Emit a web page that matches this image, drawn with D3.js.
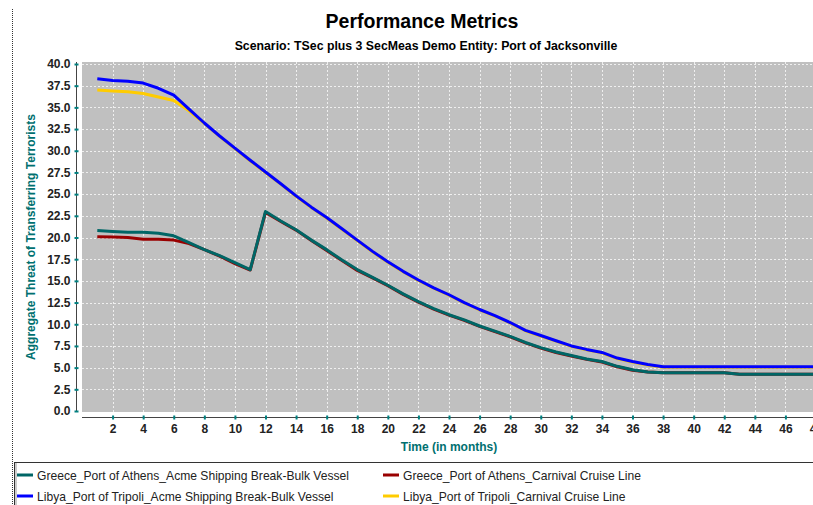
<!DOCTYPE html>
<html><head><meta charset="utf-8">
<script src="https://cdn.jsdelivr.net/npm/d3@7"></script>
<style>body{margin:0;background:#fff;}svg{display:block;}</style>
</head><body>
<script>
const months = d3.range(1, 49);
const greeceAcme = [20.8,20.7,20.6,20.6,20.5,20.2,19.4,18.6,17.9,17.1,16.3,23.0,21.9,20.9,19.7,18.6,17.4,16.3,15.4,14.5,13.5,12.6,11.8,11.1,10.5,9.8,9.2,8.6,7.9,7.3,6.8,6.4,6.0,5.7,5.15,4.75,4.5,4.4,4.4,4.4,4.4,4.4,4.25,4.25,4.25,4.25,4.25,4.25];
const greeceCarnival = [20.1,20.05,20.0,19.8,19.8,19.7,19.3,18.6,17.85,17.0,16.25,22.9,21.85,20.85,19.65,18.5,17.35,16.2,15.35,14.45,13.45,12.55,11.75,11.05,10.45,9.75,9.15,8.55,7.85,7.25,6.75,6.35,5.95,5.65,5.1,4.7,4.5,4.4,4.4,4.4,4.4,4.4,4.25,4.25,4.25,4.25,4.25,4.25];
const libyaAcme = [38.3,38.1,38.0,37.8,37.2,36.4,34.8,33.2,31.7,30.3,28.9,27.55,26.2,24.8,23.5,22.3,21.0,19.7,18.4,17.2,16.1,15.1,14.2,13.4,12.5,11.7,11.0,10.2,9.3,8.7,8.1,7.5,7.1,6.75,6.1,5.7,5.35,5.1,5.1,5.1,5.1,5.1,5.1,5.1,5.1,5.1,5.1,5.1];
const libyaCarnival = [37.0,36.9,36.8,36.6,36.2,35.8,34.6,33.15,31.65,30.25,28.85,27.5,26.15,24.75,23.45,22.25,20.95,19.65,18.35,17.15,16.05,15.05,14.15,13.35,12.45,11.65,10.95,10.15,9.25,8.65,8.05,7.45,7.05,6.7,6.05,5.65,5.3,5.05,5.05,5.05,5.05,5.05,5.05,5.05,5.05,5.05,5.05,5.05];
const seriesNames = ["Greece_Port of Athens_Acme Shipping Break-Bulk Vessel","Greece_Port of Athens_Carnival Cruise Line","Libya_Port of Tripoli_Acme Shipping Break-Bulk Vessel","Libya_Port of Tripoli_Carnival Cruise Line"];
const seriesColors = ["#006666","#990000","#0000ff","#ffcc00"];
const yTicks = d3.range(0, 40.01, 2.5);
const xTicks = d3.range(2, 49, 2);

const W = 813, H = 505;
const svg = d3.select("body").append("svg").attr("width", W).attr("height", H);
const font = "Arial, 'Liberation Sans', Helvetica, sans-serif";

const x = d3.scaleLinear().domain([0, 48]).range([82, 816]);
const y = d3.scaleLinear().domain([0, 40]).range([411, 64]);

// dotted left border
svg.append("line").attr("x1", 12.5).attr("x2", 12.5).attr("y1", 9).attr("y2", H)
  .attr("stroke", "#333").attr("stroke-dasharray", "1,1");

// titles
svg.append("text").attr("x", 422).attr("y", 28).attr("text-anchor", "middle")
  .attr("font-family", font).attr("font-weight", "bold").attr("font-size", 19.5).text("Performance Metrics");
svg.append("text").attr("x", 426).attr("y", 50).attr("text-anchor", "middle")
  .attr("font-family", font).attr("font-weight", "bold").attr("font-size", 12.3).text("Scenario: TSec plus 3 SecMeas Demo Entity: Port of Jacksonville");

// plot background
svg.append("rect").attr("x", 82).attr("y", 62).attr("width", W - 82 + 10).attr("height", 350).attr("fill", "#c0c0c0");

// grid
const grid = svg.append("g").attr("stroke", "#ffffff").attr("stroke-dasharray", "2,2").attr("stroke-width", 1).attr("opacity", 0.75);
grid.selectAll(".h").data(yTicks.filter(d => d > 0)).join("line")
  .attr("x1", 82).attr("x2", W + 10).attr("y1", d => Math.round(y(d)) + 0.5).attr("y2", d => Math.round(y(d)) + 0.5);
grid.selectAll(".v").data(xTicks).join("line")
  .attr("y1", 62).attr("y2", 412).attr("x1", d => Math.round(x(d)) + 0.5).attr("x2", d => Math.round(x(d)) + 0.5);

// axes
const yAxis = d3.axisLeft(y).tickValues(yTicks).tickFormat(d3.format(".1f")).tickSize(2).tickPadding(4);
const gy = svg.append("g").attr("transform", "translate(76.5,0)").call(yAxis);
gy.select(".domain").attr("d", `M0,${y(40) - 2}V${412}`).attr("stroke", "#444");
gy.selectAll(".tick line").attr("stroke", "#008080").attr("x1", 2).attr("x2", -2).attr("stroke-width", 2);
gy.selectAll(".tick text").attr("font-family", font).attr("font-weight", "bold").attr("font-size", 12).attr("fill", "#222");

const xAxis = d3.axisBottom(x).tickValues(xTicks).tickFormat(d3.format("d")).tickSize(2).tickPadding(5);
const gx = svg.append("g").attr("transform", "translate(0,417.5)").call(xAxis);
gx.select(".domain").attr("d", `M82,0H${W + 10}`).attr("stroke", "#444");
gx.selectAll(".tick line").attr("stroke", "#008080").attr("y1", -2).attr("y2", 2).attr("stroke-width", 2);
gx.selectAll(".tick text").attr("font-family", font).attr("font-weight", "bold").attr("font-size", 12).attr("fill", "#222");

// axis labels
svg.append("text").attr("transform", "translate(35,237) rotate(-90)").attr("text-anchor", "middle")
  .attr("font-family", font).attr("font-weight", "bold").attr("font-size", 12).attr("fill", "#007070")
  .text("Aggregate Threat of Transferring Terrorists");
svg.append("text").attr("x", 449).attr("y", 451).attr("text-anchor", "middle")
  .attr("font-family", font).attr("font-weight", "bold").attr("font-size", 12).attr("fill", "#007070")
  .text("Time (in months)");

// lines
const data = [greeceAcme, greeceCarnival, libyaAcme, libyaCarnival];
const line = d3.line().x((d, i) => x(months[i])).y(d => y(d));
svg.append("defs").append("clipPath").attr("id", "clip").append("rect")
  .attr("x", 82).attr("y", 62).attr("width", W).attr("height", 350);
const lg = svg.append("g").attr("clip-path", "url(#clip)");
[3, 2, 1, 0].forEach(i => {
  lg.append("path").datum(data[i]).attr("d", line).attr("fill", "none")
    .attr("stroke", seriesColors[i]).attr("stroke-width", 3).attr("stroke-linejoin", "round");
});

// legend
svg.append("rect").attr("x", 14.5).attr("y", 462.5).attr("width", W).attr("height", 60)
  .attr("fill", "none").attr("stroke", "#333");
svg.append("line").attr("x1", 16).attr("x2", 16).attr("y1", 463).attr("y2", H).attr("stroke", "#999");
const legPos = [[17, 475], [383, 475], [17, 496], [383, 496]];
seriesNames.forEach((n, i) => {
  const [lx, ly] = legPos[i];
  svg.append("line").attr("x1", lx).attr("x2", lx + 16).attr("y1", ly).attr("y2", ly)
    .attr("stroke", seriesColors[i]).attr("stroke-width", 3);
  svg.append("text").attr("x", lx + 20).attr("y", ly + 4.5).attr("font-family", font)
    .attr("font-size", 12.1).attr("fill", "#222").text(n);
});
</script>
</body></html>
